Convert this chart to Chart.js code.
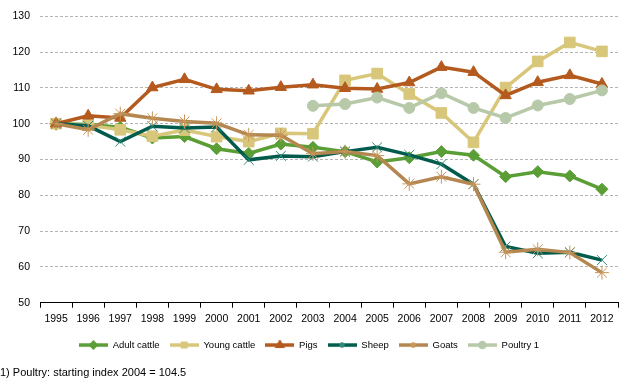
<!DOCTYPE html>
<html>
<head>
<meta charset="utf-8">
<script src="https://cdn.jsdelivr.net/npm/chart.js@4/dist/chart.umd.min.js"></script>
<style>
html,body{margin:0;padding:0;background:#fff;}
#wrap{position:relative;width:635px;height:382px;}
</style>
</head>
<body>
<div id="wrap"><canvas id="c" width="635" height="382"></canvas></div>
<script>
const years = ['1995','1996','1997','1998','1999','2000','2001','2002','2003','2004','2005','2006','2007','2008','2009','2010','2011','2012'];
const adultCattle = [100, 99.8, 99.0, 96.0, 96.4, 93.0, 91.7, 94.3, 93.4, 92.2, 89.3, 90.5, 92.2, 91.2, 85.2, 86.6, 85.4, 81.7];
const youngCattle = [100, 99.6, 98.3, 96.5, 98.2, 96.4, 95.0, 97.3, 97.2, 112.1, 114.0, 108.3, 103.0, 94.8, 110.1, 117.4, 122.7, 120.2];
const pigs = [100, 102.2, 101.6, 110.1, 112.4, 109.6, 109.2, 110.2, 110.9, 109.9, 109.7, 111.5, 115.8, 114.4, 107.9, 111.6, 113.5, 111.1];
const sheep = [100, 99.4, 95.0, 99.3, 98.8, 99.1, 89.9, 91.0, 90.8, 92.2, 93.4, 91.3, 88.7, 83.1, 65.7, 63.8, 64.1, 61.9];
const goats = [100, 98.3, 102.8, 101.5, 100.6, 100.1, 96.9, 96.8, 91.6, 92.2, 91.1, 83.2, 85.2, 83.1, 64.1, 64.9, 64.0, 58.4];
const poultry = [null, null, null, null, null, null, null, null, 105.0, 105.5, 107.3, 104.4, 108.5, 104.4, 101.6, 105.1, 106.9, 109.3];
const seriesNames = ['Adult cattle','Young cattle','Pigs','Sheep','Goats','Poultry 1'];
const yTicks = [50, 60, 70, 80, 90, 100, 110, 120, 130];
const footnote = '1) Poultry: starting index 2004 = 104.5';

const styles = [
  {color:'#5b9e36', mcol:'#5b9e36', shape:'rectRot', r:6, bw:1},
  {color:'#d8c77a', mcol:'#d8c77a', shape:'rect', r:7.5, bw:1},
  {color:'#b45a1e', mcol:'#b45a1e', shape:'triangle', r:6.5, bw:1},
  {color:'#005b4c', mcol:'#2f8a78', shape:'crossRot', r:7, bw:1},
  {color:'#b3874f', mcol:'#c8965a', shape:'star', r:7, bw:1},
  {color:'#b7c9a9', mcol:'#b7c9a9', shape:'circle', r:5.5, bw:1}
];
const values = [adultCattle, youngCattle, pigs, sheep, goats, poultry];

function legendImage(s){
  const cv = document.createElement('canvas');
  cv.width = 29; cv.height = 10;
  const ctx = cv.getContext('2d');
  ctx.strokeStyle = s.color; ctx.lineWidth = 3.5;
  ctx.beginPath(); ctx.moveTo(0,5); ctx.lineTo(29,5); ctx.stroke();
  ctx.fillStyle = s.mcol; ctx.strokeStyle = s.mcol;
  Chart.helpers.drawPoint(ctx, {pointStyle: s.shape, radius: 2.5, borderWidth: 1}, 14.5, 5);
  return cv;
}

const datasets = values.map((v,i)=>({
  label: seriesNames[i],
  data: v,
  borderColor: styles[i].color,
  backgroundColor: styles[i].mcol,
  pointBorderColor: styles[i].mcol,
  pointBackgroundColor: styles[i].mcol,
  pointStyle: styles[i].shape,
  pointRadius: styles[i].r,
  pointBorderWidth: styles[i].bw,
  borderWidth: 3.5,
  tension: 0,
  spanGaps: false,
  order: 6 - i
}));

const FONT = "'Liberation Sans', Arial, sans-serif";

new Chart(document.getElementById('c'), {
  type: 'line',
  data: {labels: years, datasets},
  options: {
    responsive: false,
    animation: false,
    devicePixelRatio: 1,
    layout: {padding: {left: 0, right: 17, top: 9, bottom: 2}},
    plugins: {
      tooltip: {enabled: false},
      legend: {
        position: 'bottom',
        labels: {
          usePointStyle: true,
          pointStyleWidth: 29,
          boxHeight: 10,
          padding: 10,
          color: '#000',
          font: {family: FONT, size: 9.5},
          generateLabels: (chart) => chart.data.datasets.map((d,i)=>({
            text: d.label,
            pointStyle: legendImage(styles[i]),
            fillStyle: styles[i].color,
            strokeStyle: styles[i].color,
            lineWidth: 0,
            hidden: false,
            datasetIndex: i
          }))
        }
      },
      subtitle: {
        display: true,
        text: footnote,
        position: 'bottom',
        align: 'start',
        color: '#000',
        font: {family: FONT, size: 11, weight: 'normal'},
        padding: {top: 7, bottom: 0}
      }
    },
    scales: {
      x: {
        offset: true,
        grid: {offset: true, drawOnChartArea: false, drawTicks: true, tickLength: 5, color: '#000', lineWidth: 1},
        border: {display: true, color: '#000', width: 1},
        ticks: {color: '#000', font: {family: FONT, size: 10.5}, maxRotation: 0, autoSkip: false, padding: 5}
      },
      y: {
        min: 50, max: 130,
        afterBuildTicks: (s) => { s.ticks = yTicks.map(v=>({value:v})); },
        afterFit: (s) => { s.width = 40; },
        grid: {
          drawTicks: false,
          color: (ctx) => ctx.tick && ctx.tick.value === 50 ? 'rgba(0,0,0,0)' : '#b4b4b4',
          lineWidth: 1
        },
        border: {display: false, dash: [3, 2]},
        ticks: {color: '#000', font: {family: FONT, size: 10.5}, padding: 10}
      }
    }
  }
});
</script>
</body>
</html>
